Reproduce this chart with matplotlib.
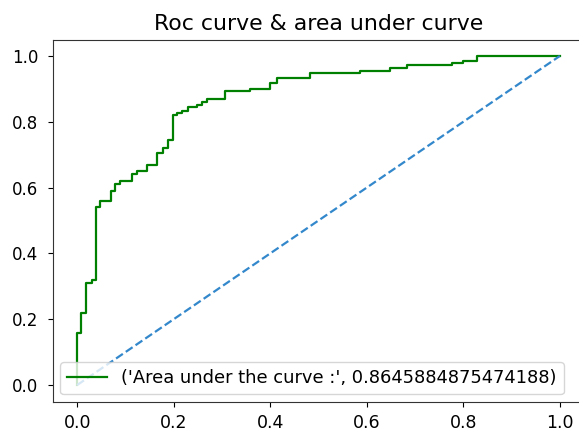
import numpy as np
import matplotlib.pyplot as plt

# roc curve corners
fpr = [0.0, 0.0, 0.008, 0.008, 0.019, 0.019, 0.03, 0.03, 0.039, 0.039,
       0.048, 0.048, 0.07, 0.07, 0.078, 0.078, 0.088, 0.088, 0.113, 0.113,
       0.124, 0.124, 0.145, 0.145, 0.166, 0.166, 0.178, 0.178, 0.189, 0.189,
       0.199, 0.199, 0.207, 0.207, 0.217, 0.217, 0.23, 0.23, 0.248, 0.248,
       0.259, 0.259, 0.27, 0.27, 0.306, 0.306, 0.358, 0.358, 0.40, 0.40,
       0.414, 0.414, 0.482, 0.482, 0.586, 0.586, 0.648, 0.648, 0.683, 0.683,
       0.776, 0.776, 0.80, 0.80, 0.828, 0.828, 1.0]
tpr = [0.0, 0.157, 0.157, 0.22, 0.22, 0.31, 0.31, 0.32, 0.32, 0.54,
       0.54, 0.56, 0.56, 0.59, 0.59, 0.61, 0.61, 0.62, 0.62, 0.64,
       0.64, 0.65, 0.65, 0.67, 0.67, 0.705, 0.705, 0.72, 0.72, 0.745,
       0.745, 0.82, 0.82, 0.826, 0.826, 0.833, 0.833, 0.845, 0.845, 0.85,
       0.85, 0.86, 0.86, 0.87, 0.87, 0.894, 0.894, 0.90, 0.90, 0.918,
       0.918, 0.933, 0.933, 0.948, 0.948, 0.954, 0.954, 0.963, 0.963, 0.973,
       0.973, 0.979, 0.979, 0.985, 0.985, 1.0, 1.0]
auc_value = 0.8645884875474188
diag = [0, 1]

fig = plt.figure(figsize=(5.79, 4.32), dpi=100)
ax = fig.add_axes([53 / 579, 30.5 / 432, 531 / 579, 362 / 432])

ax.plot(fpr, tpr, color='g', lw=1.6, label=('Area under the curve :', auc_value))
ax.plot(diag, diag, linestyle='--', lw=1.6, color='#3388cc')
ax.set_title('Roc curve & area under curve', fontsize=15.8, pad=7)
ax.tick_params(axis='x', labelsize=12.5, pad=5.5)
ax.tick_params(axis='y', labelsize=12, pad=7)
for s in ax.spines.values():
    s.set_color('#333333')
ax.legend(loc='lower left', fontsize=12.9, borderaxespad=0.4, handlelength=2.2)

fig.savefig('out.png', dpi=100)
